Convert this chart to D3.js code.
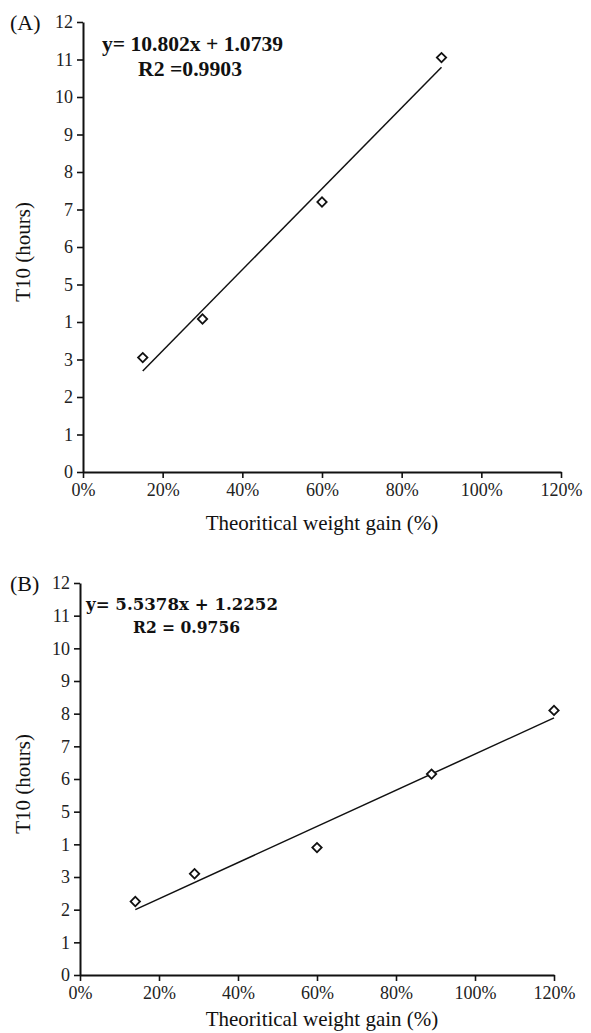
<!DOCTYPE html>
<html>
<head>
<meta charset="utf-8">
<script src="https://cdn.jsdelivr.net/npm/d3@7"></script>
<style>
  body { margin: 0; background: #fff; }
  text { font-family: "Liberation Serif", "Times New Roman", serif; fill: #111; }
</style>
</head>
<body>
<svg id="chart" width="591" height="1033"></svg>
<script>
// tick labels as printed in the figure (the "4" is printed as "1")
const xTickValues = [0, 0.2, 0.4, 0.6, 0.8, 1.0, 1.2];
const xTickLabels = ['0%', '20%', '40%', '60%', '80%', '100%', '120%'];
const yTickValues = [0, 1, 2, 3, 4, 5, 6, 7, 8, 9, 10, 11, 12];
const yTickLabels = ['0', '1', '2', '3', '1', '5', '6', '7', '8', '9', '10', '11', '12'];

// panel A
const gainA = [0.15, 0.30, 0.60, 0.90];
const t10A = [3.05, 4.08, 7.2, 11.05];
const fitA = { slope: 10.802, intercept: 1.0739 };
const eqA = ['y= 10.802x + 1.0739', 'R2 =0.9903'];

// panel B
const gainB = [0.14, 0.29, 0.60, 0.89, 1.20];
const t10B = [2.25, 3.1, 3.9, 6.15, 8.1];
const fitB = { slope: 5.5378, intercept: 1.2252 };
const eqB = ['y= 5.5378x + 1.2252', 'R2 = 0.9756'];

const svg = d3.select('#chart');

function drawPanel(cfg) {
    const x = d3.scaleLinear().domain([0, 1.2]).range([cfg.left, cfg.right]);
    const y = d3.scaleLinear().domain([0, 12]).range([cfg.bottom, cfg.top]);
    const g = svg.append('g');

    // axes
    const xAxis = g.append('g')
        .attr('transform', `translate(0,${cfg.bottom})`)
        .call(d3.axisBottom(x).tickValues(xTickValues)
            .tickFormat((d, i) => xTickLabels[i])
            .tickSize(6).tickSizeOuter(0).tickPadding(5));
    const yAxis = g.append('g')
        .attr('transform', `translate(${cfg.left},0)`)
        .call(d3.axisLeft(y).tickValues(yTickValues)
            .tickFormat((d, i) => yTickLabels[i])
            .tickSize(6).tickSizeOuter(0).tickPadding(4));
    [xAxis, yAxis].forEach((a) => {
        a.attr('font-family', null).attr('font-size', null);
        a.select('.domain').attr('stroke', '#111').attr('stroke-width', 2);
        a.selectAll('.tick line').attr('stroke', '#111').attr('stroke-width', 1.6);
        a.selectAll('.tick text').attr('style', 'font-size:18px;fill:#222;');
    });

    // trend line between first and last point
    const xs = d3.extent(cfg.gain);
    const fitLine = d3.line()
        .x((d) => x(d))
        .y((d) => y(cfg.fit.slope * d + cfg.fit.intercept));
    g.append('path')
        .datum(xs)
        .attr('fill', 'none')
        .attr('stroke', '#111')
        .attr('stroke-width', 1.5)
        .attr('d', fitLine);

    // diamond markers
    const diamond = d3.symbol().type(d3.symbolSquare).size(44);
    g.selectAll('.pt')
        .data(cfg.gain)
        .join('path')
        .attr('class', 'pt')
        .attr('transform', (d, i) => `translate(${x(d)},${y(cfg.t10[i])}) rotate(45)`)
        .attr('d', diamond)
        .attr('fill', '#fff')
        .attr('stroke', '#111')
        .attr('stroke-width', 1.8);

    // labels
    g.append('text')
        .attr('x', 10).attr('y', cfg.top + 8)
        .attr('style', 'font-size:22px;')
        .text(cfg.tag);
    g.append('text')
        .attr('transform', `translate(30,${(cfg.top + cfg.bottom) / 2 + 5}) rotate(-90)`)
        .attr('text-anchor', 'middle')
        .attr('style', 'font-size:21px;')
        .text('T10 (hours)');
    g.append('text')
        .attr('x', 322).attr('y', cfg.titleY)
        .attr('text-anchor', 'middle')
        .attr('style', 'font-size:21px;')
        .text('Theoritical weight gain (%)');

    // equation box
    g.append('text')
        .attr('x', cfg.eqX).attr('y', cfg.eqY)
        .attr('textLength', cfg.eqW).attr('lengthAdjust', 'spacingAndGlyphs')
        .attr('style', cfg.eqStyle)
        .text(cfg.eq[0]);
    g.append('text')
        .attr('x', cfg.r2X).attr('y', cfg.eqY + cfg.r2Dy)
        .attr('textLength', cfg.r2W).attr('lengthAdjust', 'spacingAndGlyphs')
        .attr('style', cfg.eqStyle)
        .text(cfg.eq[1]);
}

drawPanel({
    tag: '(A)', left: 83, right: 561, top: 22, bottom: 472, titleY: 530,
    gain: gainA, t10: t10A, fit: fitA, eq: eqA,
    eqX: 102, eqY: 51, eqW: 181, r2X: 138, r2Dy: 25, r2W: 104,
    eqStyle: 'font-size:21px;font-weight:bold;',
});
drawPanel({
    tag: '(B)', left: 80, right: 554, top: 583, bottom: 975, titleY: 1026,
    gain: gainB, t10: t10B, fit: fitB, eq: eqB,
    eqX: 86, eqY: 610, eqW: 192, r2X: 133, r2Dy: 23, r2W: 107,
    eqStyle: 'font-size:17px;font-weight:bold;font-family:"DejaVu Serif",serif;',
});
</script>
</body>
</html>
